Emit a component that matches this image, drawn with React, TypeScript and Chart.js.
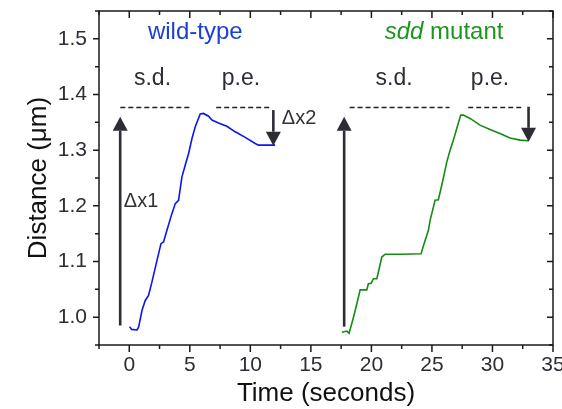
import React, { useEffect, useRef } from 'react';
import { Chart, registerables } from 'chart.js';

Chart.register(...registerables);

// ---- data ----
const wildTime = [0.02, 0.2, 0.64, 0.77, 1.05, 1.32, 1.59, 1.87, 2.29, 2.62, 2.83, 3.11, 3.52, 3.8, 4.07, 4.35, 4.62, 4.9, 5.18, 5.45, 5.86, 6.13, 6.55, 6.83, 7.37, 8.06, 8.75, 9.58, 10.4, 10.67, 12.05];
const wildDist = [0.983, 0.978, 0.977, 0.982, 1.012, 1.03, 1.039, 1.063, 1.102, 1.132, 1.135, 1.156, 1.186, 1.204, 1.21, 1.252, 1.273, 1.294, 1.321, 1.342, 1.365, 1.366, 1.361, 1.354, 1.349, 1.343, 1.333, 1.323, 1.312, 1.309, 1.309];

const sddTime = [17.56, 17.97, 18.16, 18.52, 18.8, 19.07, 19.62, 19.75, 19.98, 20.17, 20.45, 20.86, 21.13, 22.51, 24.1, 24.44, 24.71, 24.85, 25.26, 25.53, 25.81, 26.23, 26.5, 26.77, 27.05, 27.38, 27.6, 28.15, 28.97, 29.8, 30.62, 31.45, 32.28, 32.96];
const sddDist = [0.973, 0.975, 0.971, 1.0, 1.024, 1.049, 1.049, 1.06, 1.061, 1.069, 1.069, 1.108, 1.113, 1.113, 1.114, 1.138, 1.156, 1.174, 1.21, 1.211, 1.237, 1.279, 1.3, 1.318, 1.339, 1.363, 1.363, 1.357, 1.345, 1.337, 1.33, 1.322, 1.318, 1.317];

const xTickLabels = ['0', '5', '10', '15', '20', '25', '30', '35'];
const yTickLabels = ['1.0', '1.1', '1.2', '1.3', '1.4', '1.5'];

// dashed guide lines (data units)
const dashStart = [-0.74, 7.18, 18.2, 28.0];
const dashEnd = [5.04, 11.64, 26.45, 32.4];
const dashLevel = 1.378;

// arrows (data units)
const arrowX = [-0.75, 11.9, 17.75, 32.98];
const arrowFrom = [0.985, 1.372, 0.983, 1.378];
const arrowTo = [1.36, 1.308, 1.36, 1.315];

// phase labels
const phaseText = ['s.d.', 'p.e.', 's.d.', 'p.e.'];
const phaseX = [1.92, 9.22, 21.88, 29.8];
const phaseY = 1.429;

// delta labels
const deltaText = ['\u0394x1', '\u0394x2'];
const deltaX = [-0.45, 12.6];
const deltaY = [1.207, 1.357];

// series titles
const wildTitle = 'wild-type';
const sddItalic = 'sdd';
const sddRest = ' mutant';
const titleX = [5.45, 26.0];
const titleY = 1.511;

const FONT = '"Liberation Sans", Arial, Helvetica, sans-serif';
const BLUE_LINE = '#0a16f0';
const BLUE_TEXT = '#1b40d4';
const GREEN_LINE = '#148c14';
const GREEN_TEXT = '#1d961d';
const DARK = '#2d2d36';

const annotate = {
  id: 'annotate',
  afterDatasetsDraw(chart: any) {
    const { ctx, chartArea } = chart;
    const xs = chart.scales.x;
    const ys = chart.scales.y;
    const { left, right, top, bottom } = chartArea;
    ctx.save();

    // frame
    ctx.strokeStyle = '#1a1a1a';
    ctx.lineWidth = 1.5;
    ctx.strokeRect(left, top, right - left, bottom - top);

    // ticks
    ctx.beginPath();
    xs.ticks.forEach((t: any) => {
      const px = xs.getPixelForValue(t.value);
      const major = Math.abs(Math.round(t.value / 5) * 5 - t.value) < 1e-6;
      const len = major ? 7 : 4;
      ctx.moveTo(px, bottom);
      ctx.lineTo(px, bottom + len);
      ctx.moveTo(px, top);
      ctx.lineTo(px, top + len);
    });
    ys.ticks.forEach((t: any) => {
      const py = ys.getPixelForValue(t.value);
      const major = Math.abs(Math.round(t.value * 10) / 10 - t.value) < 1e-6;
      const len = major ? 6 : 4;
      ctx.moveTo(left, py);
      ctx.lineTo(left - len, py);
      ctx.moveTo(right, py);
      ctx.lineTo(right - len, py);
    });
    ctx.stroke();

    // dashed lines
    ctx.strokeStyle = '#222';
    ctx.lineWidth = 1.5;
    ctx.setLineDash([5, 3]);
    for (let i = 0; i < dashStart.length; i++) {
      const y = Math.round(ys.getPixelForValue(dashLevel)) + 0.5;
      ctx.beginPath();
      ctx.moveTo(xs.getPixelForValue(dashStart[i]), y);
      ctx.lineTo(xs.getPixelForValue(dashEnd[i]), y);
      ctx.stroke();
    }
    ctx.setLineDash([]);

    // arrows
    ctx.strokeStyle = DARK;
    ctx.fillStyle = DARK;
    for (let i = 0; i < arrowX.length; i++) {
      const px = xs.getPixelForValue(arrowX[i]);
      const y0 = ys.getPixelForValue(arrowFrom[i]);
      const y1 = ys.getPixelForValue(arrowTo[i]);
      const dir = y1 < y0 ? -1 : 1;
      const headLen = 14;
      const headHalf = 7.5;
      ctx.lineWidth = 2.6;
      ctx.beginPath();
      ctx.moveTo(px, y0);
      ctx.lineTo(px, y1 - dir * headLen);
      ctx.stroke();
      ctx.beginPath();
      ctx.moveTo(px, y1);
      ctx.lineTo(px - headHalf, y1 - dir * headLen);
      ctx.lineTo(px + headHalf, y1 - dir * headLen);
      ctx.closePath();
      ctx.fill();
    }

    // phase labels
    ctx.textBaseline = 'middle';
    ctx.textAlign = 'center';
    ctx.fillStyle = DARK;
    ctx.font = `23px ${FONT}`;
    for (let i = 0; i < phaseText.length; i++) {
      ctx.fillText(phaseText[i], xs.getPixelForValue(phaseX[i]), ys.getPixelForValue(phaseY));
    }

    // delta labels
    ctx.textAlign = 'left';
    ctx.font = `20px ${FONT}`;
    ctx.fillStyle = '#333';
    for (let i = 0; i < deltaText.length; i++) {
      ctx.fillText(deltaText[i], xs.getPixelForValue(deltaX[i]), ys.getPixelForValue(deltaY[i]));
    }

    // series titles
    ctx.textAlign = 'center';
    ctx.font = `24px ${FONT}`;
    ctx.fillStyle = BLUE_TEXT;
    ctx.fillText(wildTitle, xs.getPixelForValue(titleX[0]), ys.getPixelForValue(titleY));

    ctx.textAlign = 'left';
    ctx.font = `italic 24px ${FONT}`;
    const wI = ctx.measureText(sddItalic).width;
    ctx.font = `24px ${FONT}`;
    const wR = ctx.measureText(sddRest).width;
    const cx = xs.getPixelForValue(titleX[1]);
    const ty = ys.getPixelForValue(titleY);
    const sx = cx - (wI + wR) / 2;
    ctx.fillStyle = GREEN_TEXT;
    ctx.font = `italic 24px ${FONT}`;
    ctx.fillText(sddItalic, sx, ty);
    ctx.font = `24px ${FONT}`;
    ctx.fillText(sddRest, sx + wI, ty);

    ctx.restore();
  },
};

export default function App() {
  const ref = useRef<HTMLCanvasElement | null>(null);

  useEffect(() => {
    document.body.style.margin = '0';
    const canvas = ref.current;
    if (!canvas) return;
    const chart = new Chart(canvas, {
      type: 'scatter',
      data: {
        datasets: [
          {
            label: 'wild-type',
            data: wildTime.map((t, i) => ({ x: t, y: wildDist[i] })),
            showLine: true,
            borderColor: BLUE_LINE,
            borderWidth: 1.6,
            pointRadius: 0,
            tension: 0,
          },
          {
            label: 'sdd mutant',
            data: sddTime.map((t, i) => ({ x: t, y: sddDist[i] })),
            showLine: true,
            borderColor: GREEN_LINE,
            borderWidth: 1.6,
            pointRadius: 0,
            tension: 0,
          },
        ],
      },
      options: {
        animation: false,
        responsive: false,
        devicePixelRatio: 1,
        layout: { padding: { left: 0, right: 9, top: 11, bottom: 0 } },
        plugins: {
          legend: { display: false },
          tooltip: { enabled: false },
        },
        scales: {
          x: {
            type: 'linear',
            min: -2.5,
            max: 35,
            grid: { display: false, drawTicks: false },
            border: { display: false },
            ticks: {
              stepSize: 2.5,
              autoSkip: false,
              maxRotation: 0,
              padding: 8,
              color: DARK,
              font: { family: FONT, size: 21 },
              callback: (v: any) => {
                const n = Number(v);
                if (Math.abs(Math.round(n / 5) * 5 - n) > 1e-6) return '';
                const idx = Math.round(n / 5);
                return idx >= 0 && idx < xTickLabels.length ? xTickLabels[idx] : '';
              },
            },
            title: {
              display: true,
              text: 'Time (seconds)',
              color: '#111',
              font: { family: FONT, size: 26 },
              padding: { top: 0, bottom: 0 },
            },
            afterFit: (s: any) => {
              s.height = 64;
              s.paddingLeft = 0;
              s.paddingRight = 0;
            },
          },
          y: {
            type: 'linear',
            min: 0.95,
            max: 1.55,
            grid: { display: false, drawTicks: false },
            border: { display: false },
            ticks: {
              stepSize: 0.05,
              autoSkip: false,
              padding: 12,
              color: DARK,
              font: { family: FONT, size: 21 },
              callback: (v: any) => {
                const n = Math.round(Number(v) * 100);
                if (n % 10 !== 0) return '';
                const idx = n / 10 - 10;
                return idx >= 0 && idx < yTickLabels.length ? yTickLabels[idx] : '';
              },
            },
            title: {
              display: true,
              text: 'Distance (\u03bcm)',
              color: '#111',
              font: { family: FONT, size: 26 },
              padding: { top: 23, bottom: 0 },
            },
            afterFit: (s: any) => {
              s.width = 99;
              s.paddingTop = 0;
              s.paddingBottom = 0;
            },
          },
        },
      },
      plugins: [annotate],
    });
    return () => chart.destroy();
  }, []);

  return (
    <div style={{ position: 'absolute', left: 0, top: 0, width: 562, height: 409 }}>
      <canvas ref={ref} width={562} height={409} style={{ display: 'block', width: 562, height: 409 }} />
    </div>
  );
}
